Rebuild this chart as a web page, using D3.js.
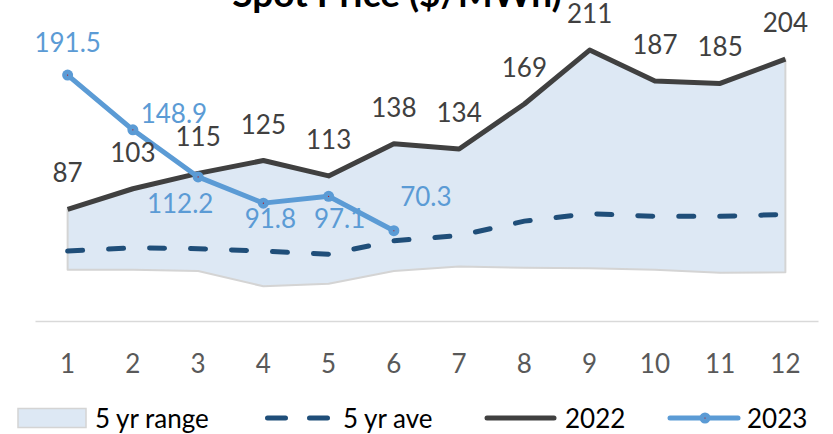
<!DOCTYPE html>
<html>
<head>
<meta charset="utf-8">
<script src="https://cdn.jsdelivr.net/npm/d3@7"></script>
<style>
  html, body { margin: 0; padding: 0; background: #fff; }
  svg { display: block; }
  text { font-family: Lato, "Open Sans", sans-serif; }
</style>
</head>
<body>
<svg id="chart" width="833" height="434"></svg>
<script>
// ---- data ----
const months = ["1","2","3","4","5","6","7","8","9","10","11","12"];
const rangeLow  = [40, 40, 39, 27, 29, 39, 42.5, 41.5, 41, 40, 37.5, 38];
const rangeHigh = [87, 103, 115, 125, 113, 138, 134, 169, 211, 187, 185, 204];
const ave5yr    = [54.5, 57, 56.3, 54.4, 52, 62.5, 66.5, 77.8, 83.6, 81.5, 81.5, 83];
const y2022     = [87, 103, 115, 125, 113, 138, 134, 169, 211, 187, 185, 204];
const y2023     = [191.5, 148.9, 112.2, 91.8, 97.1, 70.3];
const labels2022 = ["87","103","115","125","113","138","134","169","211","187","185","204"];
const labels2023 = ["191.5","148.9","112.2","91.8","97.1","70.3"];
const place2023  = ["above","right","belowLeft","below","belowRight","aboveRight"];
const yDomain = [0, 250];
const title = "Spot Price ($/MWh)";
const legendNames = ["5 yr range","5 yr ave","2022","2023"];

// ---- styles ----
const C = {
  area: "#dde8f4", areaStroke: "#d4d4d4",
  ave: "#1f4e79", y22: "#404040", y23: "#5b9bd5",
  axis: "#d9d9d9", tick: "#595959"
};

const svg = d3.select("#chart");
const x = d3.scaleBand().domain(months).range([35, 818]).padding(0);
const cx = m => x(m) + x.bandwidth() / 2;
const y = d3.scaleLinear().domain(yDomain).range([321, 0]);

// area (5 yr range)
const areaData = months.map((m, i) => ({ m, lo: rangeLow[i], hi: rangeHigh[i] }));
svg.append("path")
  .datum(areaData)
  .attr("d", d3.area().x(d => cx(d.m)).y0(d => y(d.lo)).y1(d => y(d.hi)))
  .attr("fill", C.area)
  .attr("stroke", C.areaStroke)
  .attr("stroke-width", 2)
  .attr("stroke-linejoin", "round");

// x axis
const xAxis = d3.axisBottom(x).tickSize(0).tickPadding(0);
const gx = svg.append("g").attr("transform", `translate(0,${y(0)})`).call(xAxis);
gx.select(".domain").attr("stroke", C.axis).attr("stroke-width", 1.5);
gx.selectAll(".tick text")
  .attr("y", 52).attr("dy", null)
  .attr("font-size", 26).attr("fill", C.tick)
  .style("font-family", "Lato, 'Open Sans', sans-serif");

const line = d3.line().x(d => cx(d.m)).y(d => y(d.v));

// 5 yr ave dashed
svg.append("path")
  .datum(months.map((m, i) => ({ m, v: ave5yr[i] })))
  .attr("d", line)
  .attr("fill", "none")
  .attr("stroke", C.ave)
  .attr("stroke-width", 5)
  .attr("stroke-linecap", "round")
  .attr("stroke-dasharray", "15 26");

// 2022
const d22 = months.map((m, i) => ({ m, v: y2022[i], l: labels2022[i] }));
svg.append("path")
  .datum(d22)
  .attr("d", line)
  .attr("fill", "none")
  .attr("stroke", C.y22)
  .attr("stroke-width", 5)
  .attr("stroke-linejoin", "round");

// 2023
const d23 = y2023.map((v, i) => ({ m: months[i], v, l: labels2023[i], p: place2023[i] }));
svg.append("path")
  .datum(d23)
  .attr("d", line)
  .attr("fill", "none")
  .attr("stroke", C.y23)
  .attr("stroke-width", 5)
  .attr("stroke-linejoin", "round");
svg.selectAll("circle.m23").data(d23).enter().append("circle")
  .attr("class", "m23")
  .attr("cx", d => cx(d.m)).attr("cy", d => y(d.v)).attr("r", 5.5)
  .attr("fill", C.y23);
svg.selectAll("circle.c23").data(d23).enter().append("circle")
  .attr("class", "c23")
  .attr("cx", d => cx(d.m)).attr("cy", d => y(d.v)).attr("r", 0.6)
  .attr("fill", "#c00000");

// labels 2022 (above)
svg.selectAll("text.l22").data(d22).enter().append("text")
  .attr("class", "l22")
  .attr("x", d => cx(d.m)).attr("y", d => y(d.v) - 27)
  .attr("text-anchor", "middle")
  .attr("font-size", 26).attr("fill", C.y22)
  .text(d => d.l);

// labels 2023
const off = {
  above:      { dx: 0,   dy: -23 },
  right:      { dx: 41,  dy: -7 },
  belowLeft:  { dx: -18, dy: 36 },
  below:      { dx: 7,   dy: 25 },
  belowRight: { dx: 11,  dy: 32 },
  aboveRight: { dx: 32,  dy: -24.5 }
};
svg.selectAll("text.l23").data(d23).enter().append("text")
  .attr("class", "l23")
  .attr("x", d => cx(d.m) + off[d.p].dx)
  .attr("y", d => y(d.v) + off[d.p].dy)
  .attr("text-anchor", "middle")
  .attr("font-size", 26).attr("fill", C.y23)
  .text(d => d.l);

// title
svg.append("text")
  .attr("x", 397).attr("y", 7)
  .attr("text-anchor", "middle")
  .attr("font-size", 37).attr("font-weight", "bold").attr("fill", "#000")
  .text(title);

// legend
const ly = 418, fs = 26;
const lg = svg.append("g");
lg.append("rect").attr("x", 18).attr("y", 408.5).attr("width", 68).attr("height", 19)
  .attr("fill", C.area).attr("stroke", C.areaStroke).attr("stroke-width", 1.5);
lg.append("text").attr("x", 95).attr("y", 428).attr("font-size", fs).text(legendNames[0]);

lg.append("line").attr("x1", 267.5).attr("x2", 328).attr("y1", ly).attr("y2", ly)
  .attr("stroke", C.ave).attr("stroke-width", 5).attr("stroke-linecap", "round")
  .attr("stroke-dasharray", "18 24");
lg.append("text").attr("x", 343).attr("y", 428).attr("font-size", fs).text(legendNames[1]);

lg.append("line").attr("x1", 487).attr("x2", 554).attr("y1", ly).attr("y2", ly)
  .attr("stroke", C.y22).attr("stroke-width", 5).attr("stroke-linecap", "round");
lg.append("text").attr("x", 565).attr("y", 428).attr("font-size", fs).text(legendNames[2]);

lg.append("line").attr("x1", 670).attr("x2", 738).attr("y1", ly).attr("y2", ly)
  .attr("stroke", C.y23).attr("stroke-width", 5).attr("stroke-linecap", "round");
lg.append("circle").attr("cx", 705).attr("cy", ly).attr("r", 5.5).attr("fill", C.y23);
lg.append("circle").attr("cx", 705).attr("cy", ly).attr("r", 0.6).attr("fill", "#c00000");
lg.append("text").attr("x", 747).attr("y", 428).attr("font-size", fs).text(legendNames[3]);
</script>
</body>
</html>
